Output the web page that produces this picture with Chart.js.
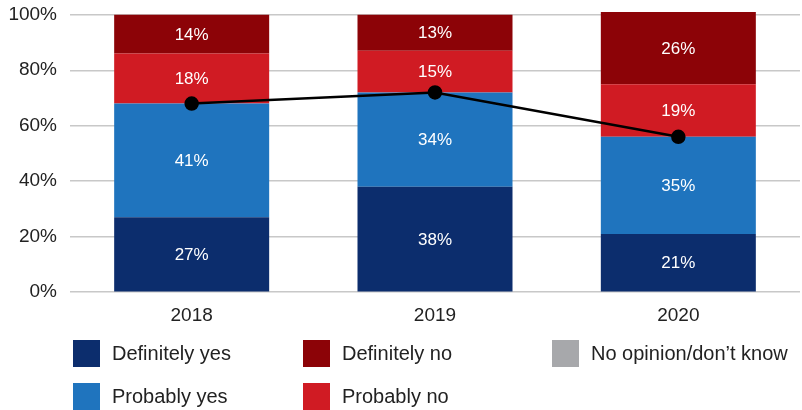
<!DOCTYPE html>
<html>
<head>
<meta charset="utf-8">
<script src="https://cdn.jsdelivr.net/npm/chart.js@4"></script>
<style>
  body { margin: 0; background: #fff; font-family: "Liberation Sans", Arial, sans-serif; }
  #wrap { position: relative; width: 802px; height: 410px; }
  #box { position: absolute; left: 0; top: 0; width: 802px; height: 331px; }
  #legend { position: absolute; left: 0; top: 0; width: 802px; height: 410px; pointer-events: none; }
  .item { position: absolute; display: flex; align-items: center; font-size: 20px; color: #222; white-space: nowrap; height: 27px; }
  .item span.sw { display: inline-block; width: 27px; height: 27px; margin-right: 12px; }
</style>
</head>
<body>
<div id="wrap">
  <div id="box"><canvas id="chart"></canvas></div>
  <div id="legend"></div>
</div>
<script>
var years = ['2018', '2019', '2020'];
var definitelyYes = [27, 38, 21];
var probablyYes = [41, 34, 35];
var probablyNo = [18, 15, 19];
var definitelyNo = [14, 13, 26];
var noOpinion = [0, 0, 0];
var yTicks = [0, 20, 40, 60, 80, 100];

// total of the two "yes" answers, shown as the line
var totalYes = definitelyYes.map(function(v, i) { return v + probablyYes[i]; });

var FONT = '"Liberation Sans", Arial, sans-serif';

var colors = {
  defYes: '#0c2d6d',
  probYes: '#1f74be',
  probNo: '#d01b23',
  defNo: '#8c0307',
  noOp: '#a7a8ab'
};

function barSet(label, data, color) {
  return {
    type: 'bar', label: label, data: data, backgroundColor: color,
    stack: 'answers', order: 1, barPercentage: 0.637, categoryPercentage: 1
  };
}

var datasets = [
  {
    type: 'line', label: 'Yes total', data: totalYes, stack: 'line', order: 0,
    borderColor: '#000', borderWidth: 2.5, pointRadius: 6, pointHoverRadius: 6,
    pointBackgroundColor: '#000', pointBorderColor: '#000', tension: 0
  },
  barSet('Definitely yes', definitelyYes, colors.defYes),
  barSet('Probably yes', probablyYes, colors.probYes),
  barSet('Probably no', probablyNo, colors.probNo),
  barSet('Definitely no', definitelyNo, colors.defNo),
  barSet('No opinion/don\u2019t know', noOpinion, colors.noOp)
];

// white percentage text in the middle of each segment
var segmentLabels = {
  id: 'segmentLabels',
  afterDatasetsDraw: function(chart) {
    var ctx = chart.ctx;
    ctx.save();
    ctx.fillStyle = '#fff';
    ctx.font = '17px ' + FONT;
    ctx.textAlign = 'center';
    ctx.textBaseline = 'middle';
    chart.data.datasets.forEach(function(ds, di) {
      if (ds.type !== 'bar') return;
      var meta = chart.getDatasetMeta(di);
      meta.data.forEach(function(bar, i) {
        var v = ds.data[i];
        if (!v) return;
        ctx.fillText(v + '%', bar.x, (bar.y + bar.base) / 2 + 1);
      });
    });
    ctx.restore();
  }
};

new Chart(document.getElementById('chart'), {
  data: { labels: years, datasets: datasets },
  plugins: [segmentLabels],
  options: {
    responsive: true,
    maintainAspectRatio: false,
    animation: false,
    layout: { autoPadding: false, padding: { top: 12, right: 2, left: 0, bottom: 0 } },
    plugins: { legend: { display: false }, tooltip: { enabled: false } },
    scales: {
      x: {
        stacked: true,
        grid: { display: false },
        border: { display: false },
        ticks: { color: '#222', font: { size: 19, family: FONT }, padding: 4 }
      },
      y: {
        stacked: true,
        min: 0,
        max: 101,
        afterBuildTicks: function(axis) {
          axis.ticks = yTicks.map(function(v) { return { value: v }; });
        },
        afterFit: function(axis) {
          axis.width = 70;
          axis.paddingTop = 0;
          axis.paddingBottom = 0;
        },
        grid: { color: '#c8c8c8', lineWidth: 1.5, drawTicks: false },
        border: { display: false },
        ticks: {
          color: '#222', padding: 13,
          font: { size: 19, family: FONT },
          callback: function(v) { return v + '%'; }
        }
      }
    }
  }
});

// two-row legend under the chart
var legendItems = [
  { label: 'Definitely yes', color: colors.defYes, x: 73, y: 340 },
  { label: 'Definitely no', color: colors.defNo, x: 303, y: 340 },
  { label: 'No opinion/don\u2019t know', color: colors.noOp, x: 552, y: 340 },
  { label: 'Probably yes', color: colors.probYes, x: 73, y: 383 },
  { label: 'Probably no', color: colors.probNo, x: 303, y: 383 }
];
var legend = document.getElementById('legend');
legendItems.forEach(function(it) {
  var el = document.createElement('div');
  el.className = 'item';
  el.style.left = it.x + 'px';
  el.style.top = it.y + 'px';
  el.innerHTML = '<span class="sw" style="background:' + it.color + '"></span>' + it.label;
  legend.appendChild(el);
});
</script>
</body>
</html>
